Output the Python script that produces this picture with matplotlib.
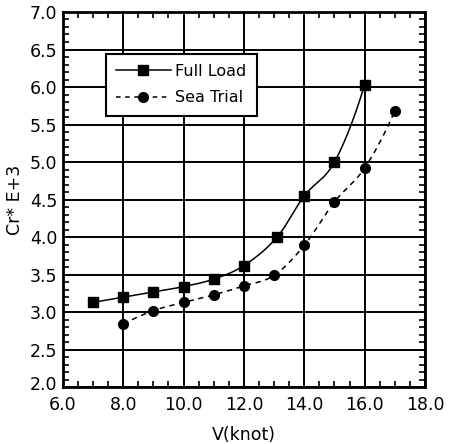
import numpy as np
import matplotlib
matplotlib.use("Agg")
import matplotlib.pyplot as plt
import matplotlib.transforms as mtransforms
from matplotlib.ticker import MultipleLocator, FormatStrFormatter

full_v = [7.0, 8.0, 9.0, 10.0, 11.0, 12.0, 13.1, 14.0, 15.0, 16.0]
full_cr = [3.13, 3.20, 3.27, 3.34, 3.44, 3.62, 4.00, 4.55, 5.00, 6.03]
sea_v = [8.0, 9.0, 10.0, 11.0, 12.0, 13.0, 14.0, 15.0, 16.0, 17.0]
sea_cr = [2.84, 3.02, 3.13, 3.23, 3.35, 3.49, 3.89, 4.47, 4.92, 5.68]

x_ticks = [6.0, 8.0, 10.0, 12.0, 14.0, 16.0, 18.0]
y_ticks = [2.0, 2.5, 3.0, 3.5, 4.0, 4.5, 5.0, 5.5, 6.0, 6.5, 7.0]


def smooth(x, y, n=40):
    # Catmull-Rom style Hermite curve through the data points
    x = np.asarray(x, float); y = np.asarray(y, float)
    h = np.diff(x); d = np.diff(y) / h
    m = np.zeros_like(y)
    m[1:-1] = (y[2:] - y[:-2]) / (x[2:] - x[:-2])
    m[0] = 2 * d[0] - m[1]
    m[-1] = 2 * d[-1] - m[-2]
    xs, ys = [], []
    for i in range(len(x) - 1):
        t = np.linspace(0, 1, n)
        h00 = 2 * t**3 - 3 * t**2 + 1; h10 = t**3 - 2 * t**2 + t
        h01 = -2 * t**3 + 3 * t**2; h11 = t**3 - t**2
        xs.append(x[i] + t * h[i])
        ys.append(h00 * y[i] + h10 * h[i] * m[i] + h01 * y[i + 1] + h11 * h[i] * m[i + 1])
    return np.concatenate(xs), np.concatenate(ys)


plt.rcParams['font.family'] = ['DejaVu Sans']
fig = plt.figure(figsize=(4.49, 4.44), dpi=100)
ax = fig.add_axes([0.140, 0.128, 0.8065, 0.845])

fx, fy = smooth(full_v, full_cr)
sx, sy = smooth(sea_v, sea_cr)
ax.plot(fx, fy, color='black', lw=1.1, zorder=3)
ax.plot(sx, sy, color='black', lw=1.1, ls=(0, (3.5, 3)), zorder=3)
ax.plot(full_v, full_cr, ls='none', marker='s', ms=7.5, color='black', zorder=4)
ax.plot(sea_v, sea_cr, ls='none', marker='o', ms=7, color='black', zorder=4)

# legend handles
h1, = ax.plot([], [], color='black', lw=1.1, marker='s', ms=7.5, label='Full Load')
h2, = ax.plot([], [], color='black', lw=1.1, ls=(0, (3, 3)), marker='o', ms=7, label='Sea Trial')
leg = ax.legend(handles=[h1, h2], loc='upper left', bbox_to_anchor=(0.119, 0.889),
                frameon=True, fancybox=False, framealpha=1, fontsize=11.5, handlelength=3.4,
                handletextpad=0.3, borderpad=0.65, labelspacing=0.7, borderaxespad=0)
leg.get_frame().set_edgecolor('black')
leg.get_frame().set_linewidth(1.5)
leg.get_frame().set_facecolor('white')
leg.set_zorder(5)

ax.set_xlim(6, 18)
ax.set_ylim(2, 7)
ax.set_xticks(x_ticks)
ax.set_yticks(y_ticks)
ax.xaxis.set_major_formatter(FormatStrFormatter('%.1f'))
ax.yaxis.set_major_formatter(FormatStrFormatter('%.1f'))
ax.xaxis.set_minor_locator(MultipleLocator(0.5))
ax.yaxis.set_minor_locator(MultipleLocator(0.1))
ax.tick_params(which='both', direction='in', top=True, right=True, colors='black',
               labelsize=12.5)
ax.tick_params(axis='x', which='major', pad=6)
ax.tick_params(axis='y', which='major', pad=4)
ax.tick_params(which='major', length=0, width=1.2)
ax.tick_params(which='minor', length=4, width=1.2)
ax.grid(True, which='major', color='black', lw=1.4)
for s in ax.spines.values():
    s.set_linewidth(2)
ax.set_xlabel('V(knot)', fontsize=12.5, labelpad=9)
ax.set_ylabel('Cr* E+3', fontsize=12.5, labelpad=4)

fig.canvas.draw()
lab = ax.get_yticklabels()[0]
lab.set_transform(lab.get_transform() + mtransforms.ScaledTranslation(0, 3 / 72, fig.dpi_scale_trans))

fig.savefig('out.png', dpi=100)
